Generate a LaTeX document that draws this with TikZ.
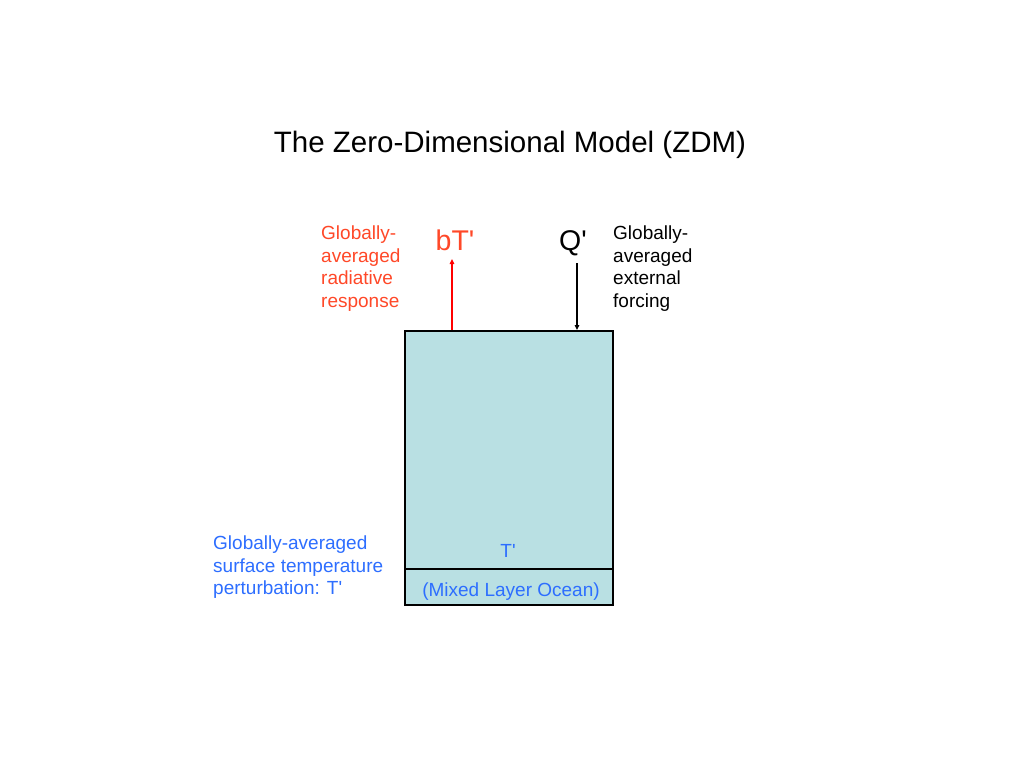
\documentclass[tikz,border=0pt]{standalone}
\usepackage{fontspec}
\setmainfont{Liberation Sans}[Ligatures=TeXOff]
\usetikzlibrary{arrows.meta}
\definecolor{boxfill}{RGB}{185,224,227}
\definecolor{redtxt}{RGB}{255,72,40}
\definecolor{bluetxt}{RGB}{45,110,255}
\definecolor{redline}{RGB}{255,0,0}
\tikzset{
  small/.style={font=\fontsize{19pt}{22.5pt}\selectfont, align=left, inner sep=0pt, anchor=north west},
  big/.style={font=\fontsize{28.5pt}{32pt}\selectfont, inner sep=0pt, anchor=base},
  layer/.style={draw=black, line width=1.5pt, fill=boxfill, anchor=north west, minimum width=208pt, inner sep=0pt},
  flux/.style={line width=1.4pt, -{Triangle[length=5pt,width=4.5pt]}}
}
\begin{document}
\begin{tikzpicture}[x=1pt,y=-1pt]
\useasboundingbox[fill=white] (0,0) rectangle (1024,768);
\node[font=\fontsize{29.5pt}{33pt}\selectfont, inner sep=0pt, anchor=base] (title) at (510,152) {The Zero-Dimensional Model (ZDM)};
\node[layer, minimum height=238pt] (atm) at (404,330) {};
\node[layer, minimum height=36pt] (ocean) at (404,568) {};
\node[font=\fontsize{19pt}{22pt}\selectfont, text=bluetxt, inner sep=0pt, anchor=base] (tp) at (508,557) {T'};
\node[font=\fontsize{19pt}{22pt}\selectfont, text=bluetxt, inner sep=0pt, anchor=base] (mlo) at (511,596) {(Mixed Layer Ocean)};
\node[big, text=redtxt] (bT) at (455,250) {bT'};
\node[big, text=black] (Q) at (573,250) {Q'};
\node[small, text=redtxt] (rad) at (321,226) {Globally-\\averaged\\radiative\\response};
\node[small, text=black] (ext) at (613,226) {Globally-\\averaged\\external\\forcing};
\node[small, text=bluetxt] (sfc) at (213,536) {Globally-averaged\\surface temperature\\perturbation: T'};
\coordinate (bTtip) at (452,259);
\coordinate (Qtop) at (577,263);
\draw[flux, draw=redline, color=redline] (atm.north -| bTtip) -- (bTtip);
\draw[flux] (Qtop) -- (atm.north -| Qtop);
\end{tikzpicture}
\end{document}
